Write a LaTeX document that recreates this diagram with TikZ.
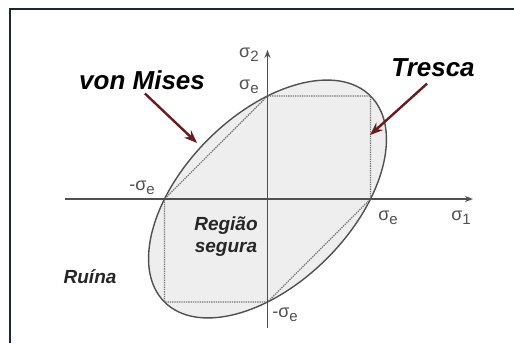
\documentclass[tikz,border=0pt]{standalone}
\usepackage{fontspec}
\setmainfont{Liberation Sans}
\usetikzlibrary{arrows.meta}
\definecolor{frameNavy}{HTML}{1B2838}
\definecolor{curveGray}{HTML}{505050}
\definecolor{fillGray}{HTML}{EEEEEE}
\definecolor{arrowWine}{HTML}{6B1A1E}
\newcommand{\sigsub}[1]{σ\raisebox{-0.45ex}{\fontsize{15}{15}\selectfont #1}}
\tikzset{
  axisLine/.style={-{Stealth[length=8pt,width=6pt]}, curveGray, line width=1.3pt},
  misesCurve/.style={draw=curveGray, fill=fillGray, line width=1.4pt},
  trescaLine/.style={curveGray!80, densely dotted, line width=1.3pt},
  calloutArrow/.style={-{Stealth[length=13pt,width=10pt]}, arrowWine, line width=2.4pt},
  critName/.style={font=\fontsize{26}{30}\selectfont\bfseries\itshape, inner sep=1pt},
  zoneName/.style={font=\fontsize{19}{22}\selectfont\bfseries\itshape, align=center,
                   inner sep=1pt, text=black!85},
  sigLabel/.style={font=\fontsize{18}{20}\selectfont, text=curveGray, inner sep=1pt},
}

\begin{document}
\begin{tikzpicture}[x=1pt, y=1pt]
  \useasboundingbox (0,0) rectangle (514,343);
  \draw[frameNavy, line width=1.5pt] (10,0) -- (10,334) -- (514,334);
  \begin{scope}[shift={(267.5,144)}, x=103pt, y=103pt]
    % von Mises ellipse and Tresca hexagon
    \coordinate (O) at (0,0);
    \filldraw[misesCurve, rotate=45] (O) ellipse ({sqrt(2)} and {sqrt(2/3)});
    \coordinate (sR) at (1,0);   \coordinate (sT) at (0,1);
    \coordinate (sL) at (-1,0);  \coordinate (sB) at (0,-1);
    \coordinate (cTR) at (1,1);  \coordinate (cBL) at (-1,-1);
    \draw[trescaLine] (sR) -- (cTR) -- (sT) -- (sL) -- (cBL) -- (sB) -- cycle;
    % axes
    \coordinate (xS) at (-1.966,0); \coordinate (xE) at (1.995,0);
    \coordinate (yS) at (0,-1.252); \coordinate (yE) at (0,1.447);
    \draw[axisLine] (xS) -- (xE);
    \draw[axisLine] (yS) -- (yE);
    \node[sigLabel] (s2) at (-0.18,1.398) {\sigsub{2}};
    \node[sigLabel] (s1) at (1.879,-0.184) {\sigsub{1}};
    \node[sigLabel] (seT) at (-0.18,1.087) {\sigsub{e}};
    \node[sigLabel] (seR) at (1.17,-0.184) {\sigsub{e}};
    \node[sigLabel] (seL) at (-1.218,0.107) {-\sigsub{e}};
    \node[sigLabel] (seB) at (0.17,-1.126) {-\sigsub{e}};
    % names and callouts
    \node[critName] (mises) at (-1.218,1.155) {von Mises};
    \node[critName] (tresca) at (1.607,1.272) {Tresca};
    \coordinate (misesTip) at (-0.684,0.544);
    \coordinate (trescaTip) at (0.995,0.621);
    \draw[calloutArrow, shorten <=4pt] (mises.south) -- (misesTip);
    \draw[calloutArrow, shorten <=8pt] (tresca.south) -- (trescaTip);
    \node[zoneName] (safe) at (-0.403,-0.369) {Região\\segura};
    \node[zoneName] (ruin) at (-1.723,-0.757) {Ruína};
  \end{scope}
\end{tikzpicture}
\end{document}
